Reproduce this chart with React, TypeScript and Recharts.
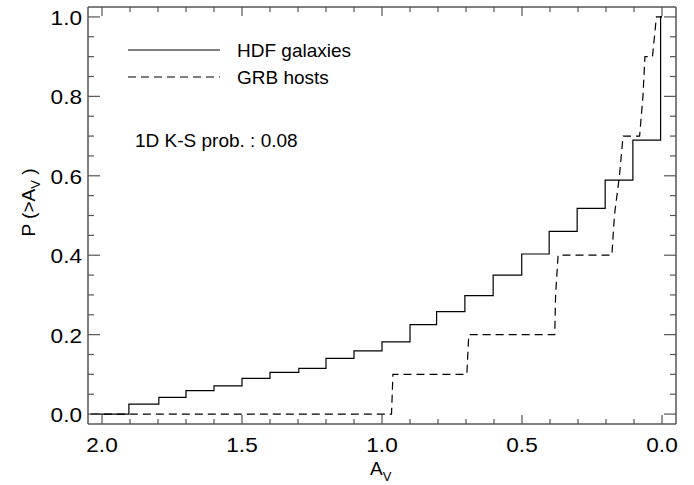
import React from 'react';
import { LineChart, Line, XAxis, YAxis, Label } from 'recharts';

// HDF galaxies: cumulative step function (step positions in A_V and levels)
const hdfStart = 2.04;
const hdfEnd = 0.0;
const hdfStepA = [1.904, 1.797, 1.70, 1.60, 1.50, 1.40, 1.297, 1.20, 1.10, 1.00, 0.90, 0.805, 0.704, 0.603, 0.501, 0.403, 0.303, 0.203, 0.104, 0.005];
const hdfLevels = [0, 0.025, 0.042, 0.059, 0.071, 0.090, 0.105, 0.115, 0.140, 0.159, 0.182, 0.225, 0.258, 0.298, 0.350, 0.403, 0.460, 0.518, 0.589, 0.690, 1.0];

// GRB hosts: polyline vertices
const grbA = [2.04, 0.966, 0.961, 0.697, 0.690, 0.383, 0.380, 0.371, 0.179, 0.170, 0.152, 0.139, 0.080, 0.068, 0.061, 0.034, 0.020, 0.000];
const grbP = [0, 0, 0.1, 0.1, 0.2, 0.2, 0.3, 0.4, 0.4, 0.5, 0.6, 0.7, 0.7, 0.8, 0.9, 0.9, 1.0, 1.0];

const xMajor = [0, 0.5, 1.0, 1.5, 2.0];
const xMinor = [0.1, 0.2, 0.3, 0.4, 0.6, 0.7, 0.8, 0.9, 1.1, 1.2, 1.3, 1.4, 1.6, 1.7, 1.8, 1.9];
const yMajor = [0, 0.2, 0.4, 0.6, 0.8, 1.0];
const yMinor = [0.05, 0.1, 0.15, 0.25, 0.3, 0.35, 0.45, 0.5, 0.55, 0.65, 0.7, 0.75, 0.85, 0.9, 0.95];

const seriesNames = ['HDF galaxies', 'GRB hosts'];
const ksText = '1D K-S prob. : 0.08';

const hdfData: { a: number; p: number }[] = [{ a: hdfStart, p: hdfLevels[0] }];
hdfStepA.forEach((s, i) => {
  hdfData.push({ a: s, p: hdfLevels[i] });
  hdfData.push({ a: s, p: hdfLevels[i + 1] });
});
hdfData.push({ a: hdfEnd, p: hdfLevels[hdfLevels.length - 1] });

const grbData = grbA.map((a, i) => ({ a, p: grbP[i] }));

const FONT = '"Liberation Sans", Arial, Helvetica, sans-serif';
const FRAME = '#555';
const isMajor = (v: number, list: number[]) => list.some((m) => Math.abs(m - v) < 1e-6);
const fmt = (v: number) => v.toFixed(1);

const TickText = ({ x, y, anchor, children }: any) => (
  <text
    x={0}
    y={0}
    transform={`translate(${x}, ${y}) scale(1.13, 1)`}
    textAnchor={anchor}
    fontFamily={FONT}
    fontSize={20}
    fill="#000"
  >
    {children}
  </text>
);

const BottomTick = (props: any) => {
  const { x, y, payload } = props;
  const major = isMajor(payload.value, xMajor);
  return (
    <g>
      <line x1={x} x2={x} y1={y} y2={y - (major ? 9 : 5)} stroke={FRAME} strokeWidth={1.2} />
      {major && (
        <TickText x={x} y={y + 27.5} anchor="middle">
          {fmt(payload.value)}
        </TickText>
      )}
    </g>
  );
};
const TopTick = (props: any) => {
  const { x, y, payload } = props;
  const major = isMajor(payload.value, xMajor);
  return <line x1={x} x2={x} y1={y} y2={y + (major ? 9 : 5)} stroke={FRAME} strokeWidth={1.2} />;
};
const LeftTick = (props: any) => {
  const { x, y, payload } = props;
  const major = isMajor(payload.value, yMajor);
  return (
    <g>
      <line x1={x} x2={x + (major ? 12 : 6)} y1={y} y2={y} stroke={FRAME} strokeWidth={1.2} />
      {major && (
        <TickText x={x - 6} y={y + 8} anchor="end">
          {fmt(payload.value)}
        </TickText>
      )}
    </g>
  );
};
const RightTick = (props: any) => {
  const { x, y, payload } = props;
  const major = isMajor(payload.value, yMajor);
  return <line x1={x} x2={x - (major ? 12 : 6)} y1={y} y2={y} stroke={FRAME} strokeWidth={1.2} />;
};

const XTitle = (props: any) => {
  const vb = props.viewBox || {};
  const cx = vb.x + vb.width / 2;
  return (
    <text x={cx - 12} y={vb.y + 51} fontFamily={FONT} fontSize={19} fill="#000">
      A<tspan fontSize={13} dy={6}>V</tspan>
    </text>
  );
};
const YTitle = (props: any) => {
  const vb = props.viewBox || {};
  const cx = vb.x + vb.width - 53;
  const cy = vb.y + vb.height / 2 - 13;
  return (
    <text
      x={cx}
      y={cy}
      transform={`rotate(-90, ${cx}, ${cy})`}
      textAnchor="middle"
      fontFamily={FONT}
      fontSize={19}
      fill="#000"
    >
      P (&gt;A<tspan fontSize={13} dy={5}>V</tspan>
      <tspan dy={-5}> )</tspan>
    </text>
  );
};

const LegendOverlay = () => (
  <svg width={400} height={160} style={{ position: 'absolute', left: 0, top: 0, pointerEvents: 'none' }}>
    <line x1={128} x2={220} y1={50} y2={50} stroke="#000" strokeWidth={1.2} />
    <text x={237} y={57} fontFamily={FONT} fontSize={19} fill="#000">{seriesNames[0]}</text>
    <line x1={128} x2={220} y1={77} y2={77} stroke="#000" strokeWidth={1.2} strokeDasharray="8 5" />
    <text x={237} y={84} fontFamily={FONT} fontSize={19} fill="#000">{seriesNames[1]}</text>
    <text x={135} y={147} fontFamily={FONT} fontSize={19} fill="#000">{ksText}</text>
  </svg>
);

export default function App() {
  return (
    <div style={{ position: 'absolute', left: 0, top: 0, width: 694, height: 485, background: '#fff' }}>
      <LineChart width={694} height={485} margin={{ top: 6, right: 17, bottom: 60, left: 87 }}>
        <XAxis
          xAxisId="b"
          type="number"
          dataKey="a"
          domain={[-0.05, 2.05]}
          allowDataOverflow
          reversed
          orientation="bottom"
          height={1}
          ticks={[...xMajor, ...xMinor]}
          interval={0}
          tickSize={0}
          tickMargin={0}
          tickLine={false}
          tick={BottomTick}
          axisLine={{ stroke: FRAME, strokeWidth: 1.5 }}
        >
          <Label content={XTitle} />
        </XAxis>
        <XAxis
          xAxisId="t"
          type="number"
          dataKey="a"
          domain={[-0.05, 2.05]}
          allowDataOverflow
          reversed
          orientation="top"
          height={1}
          ticks={[...xMajor, ...xMinor]}
          interval={0}
          tickSize={0}
          tickMargin={0}
          tickLine={false}
          tick={TopTick}
          axisLine={{ stroke: FRAME, strokeWidth: 1.5 }}
        />
        <YAxis
          yAxisId="l"
          type="number"
          domain={[-0.025, 1.025]}
          allowDataOverflow
          orientation="left"
          width={1}
          ticks={[...yMajor, ...yMinor]}
          interval={0}
          tickSize={0}
          tickMargin={0}
          tickLine={false}
          tick={LeftTick}
          axisLine={{ stroke: FRAME, strokeWidth: 1.5 }}
        >
          <Label content={YTitle} />
        </YAxis>
        <YAxis
          yAxisId="r"
          type="number"
          domain={[-0.025, 1.025]}
          allowDataOverflow
          orientation="right"
          width={1}
          ticks={[...yMajor, ...yMinor]}
          interval={0}
          tickSize={0}
          tickMargin={0}
          tickLine={false}
          tick={RightTick}
          axisLine={{ stroke: FRAME, strokeWidth: 1.5 }}
        />
        <Line
          xAxisId="b"
          yAxisId="l"
          data={hdfData}
          dataKey="p"
          name={seriesNames[0]}
          type="linear"
          stroke="#000"
          strokeWidth={1.2}
          dot={false}
          activeDot={false}
          isAnimationActive={false}
        />
        <Line
          xAxisId="b"
          yAxisId="l"
          data={grbData}
          dataKey="p"
          name={seriesNames[1]}
          type="linear"
          stroke="#000"
          strokeWidth={1.2}
          strokeDasharray="8 5"
          dot={false}
          activeDot={false}
          isAnimationActive={false}
        />
      </LineChart>
      <LegendOverlay />
    </div>
  );
}
